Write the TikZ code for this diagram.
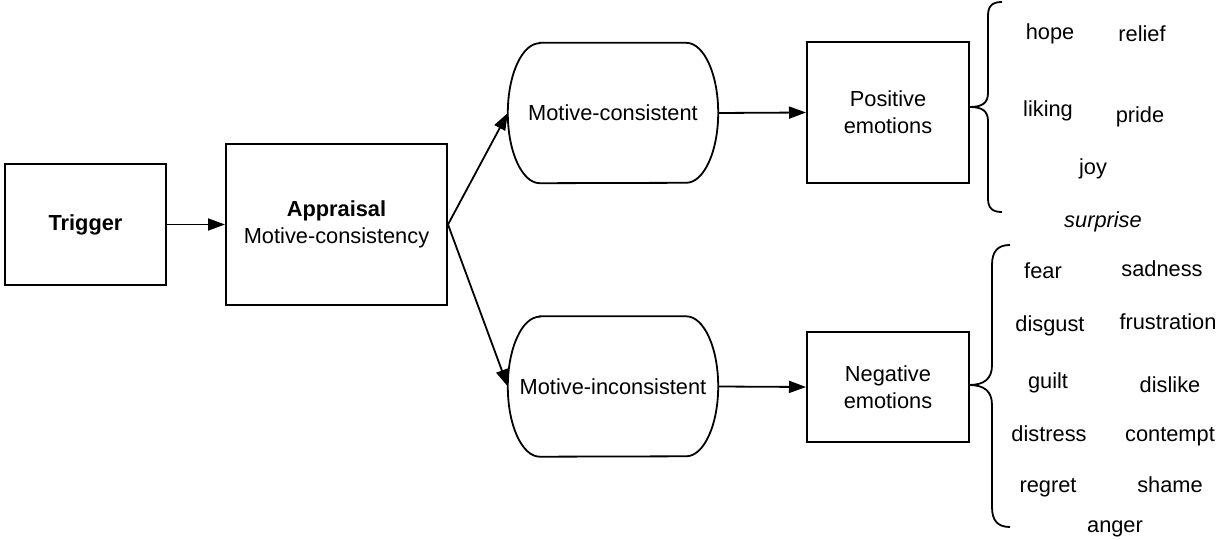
\documentclass[tikz,border=0pt]{standalone}
\usepackage{fontspec}
\setmainfont{Liberation Sans}
\usetikzlibrary{arrows.meta}
\begin{document}
\begin{tikzpicture}[x=1pt,y=1pt,
  every node/.style={font=\fontsize{21.8}{26.7}\selectfont},
  boxnode/.style={draw,line width=2pt,rectangle,align=center,inner sep=0pt},
  pillnode/.style={rectangle,align=center,inner sep=0pt,minimum width=210pt,minimum height=140pt},
  pilldraw/.style={line width=1.8pt},
  conn/.style={line width=1.8pt,-{Triangle[length=17pt,width=12pt]}},
  bracepath/.style={line width=1.8pt},
  word/.style={anchor=base,inner sep=0pt}]
\useasboundingbox (0,0) rectangle (1219,-540);

\node[boxnode,minimum width=161pt,minimum height=121pt] (trigger) at (85.5,-224.5) {\textbf{Trigger}};
\node[boxnode,minimum width=221pt,minimum height=161pt] (appraisal) at (336.5,-224.5) {\textbf{Appraisal}\\Motive-consistency};

\node[pillnode] (mc) at (613,-113) {Motive-consistent};
\node[pillnode] (mi) at (613,-386.5) {Motive-inconsistent};
\foreach \n in {mc,mi}{
  \draw[pilldraw] ([xshift=32pt]\n.north west) -- ([xshift=-32pt]\n.north east)
    arc[start angle=90,end angle=-90,x radius=32pt,y radius=70pt]
    -- ([xshift=32pt]\n.south west)
    arc[start angle=270,end angle=90,x radius=32pt,y radius=70pt] -- cycle;
}

\node[boxnode,minimum width=162pt,minimum height=141pt] (pos) at (888,-112.5) {Positive\\emotions};
\node[boxnode,minimum width=162pt,minimum height=110pt] (neg) at (888,-387) {Negative\\emotions};

\draw[conn] (trigger.east) -- (appraisal.west);
\draw[conn] (appraisal.east) -- (mc.west);
\draw[conn] (appraisal.east) -- (mi.west);
\draw[conn] (mc.east) -- (pos.west);
\draw[conn] (mi.east) -- (neg.west);

% braces
\draw[bracepath] (1002,-2) .. controls (992,-2) and (988,-6) .. (988,-16) -- (988,-93)
  .. controls (988,-103) and (982,-107) .. (970,-107)
  .. controls (982,-107) and (988,-111) .. (988,-121) -- (988,-198)
  .. controls (988,-208) and (992,-212) .. (1002,-212);
\draw[bracepath] (1010,-245) .. controls (998,-245) and (992,-251) .. (992,-265) -- (992,-365)
  .. controls (992,-379) and (984,-385) .. (969,-385)
  .. controls (984,-385) and (992,-391) .. (992,-405) -- (992,-507)
  .. controls (992,-521) and (998,-527) .. (1010,-527);

% positive words
\node[word] (hope) at (1050,-39.5) {hope};
\node[word] (relief) at (1142,-41.5) {relief};
\node[word] (liking) at (1048,-116.5) {liking};
\node[word] (pride) at (1140,-122.5) {pride};
\node[word] (joy) at (1093,-175) {joy};
\node[word] (surprise) at (1103,-228) {\itshape surprise};

% negative words
\node[word] (fear) at (1043,-279) {fear};
\node[word] (sadness) at (1162,-277) {sadness};
\node[word] (disgust) at (1050,-331) {disgust};
\node[word] (frustration) at (1168,-329) {frustration};
\node[word] (guilt) at (1048,-388) {guilt};
\node[word] (dislike) at (1170,-392) {dislike};
\node[word] (distress) at (1049,-441) {distress};
\node[word] (contempt) at (1170,-441) {contempt};
\node[word] (regret) at (1048,-492) {regret};
\node[word] (shame) at (1170,-492) {shame};
\node[word] (anger) at (1115,-532) {anger};
\end{tikzpicture}
\end{document}
